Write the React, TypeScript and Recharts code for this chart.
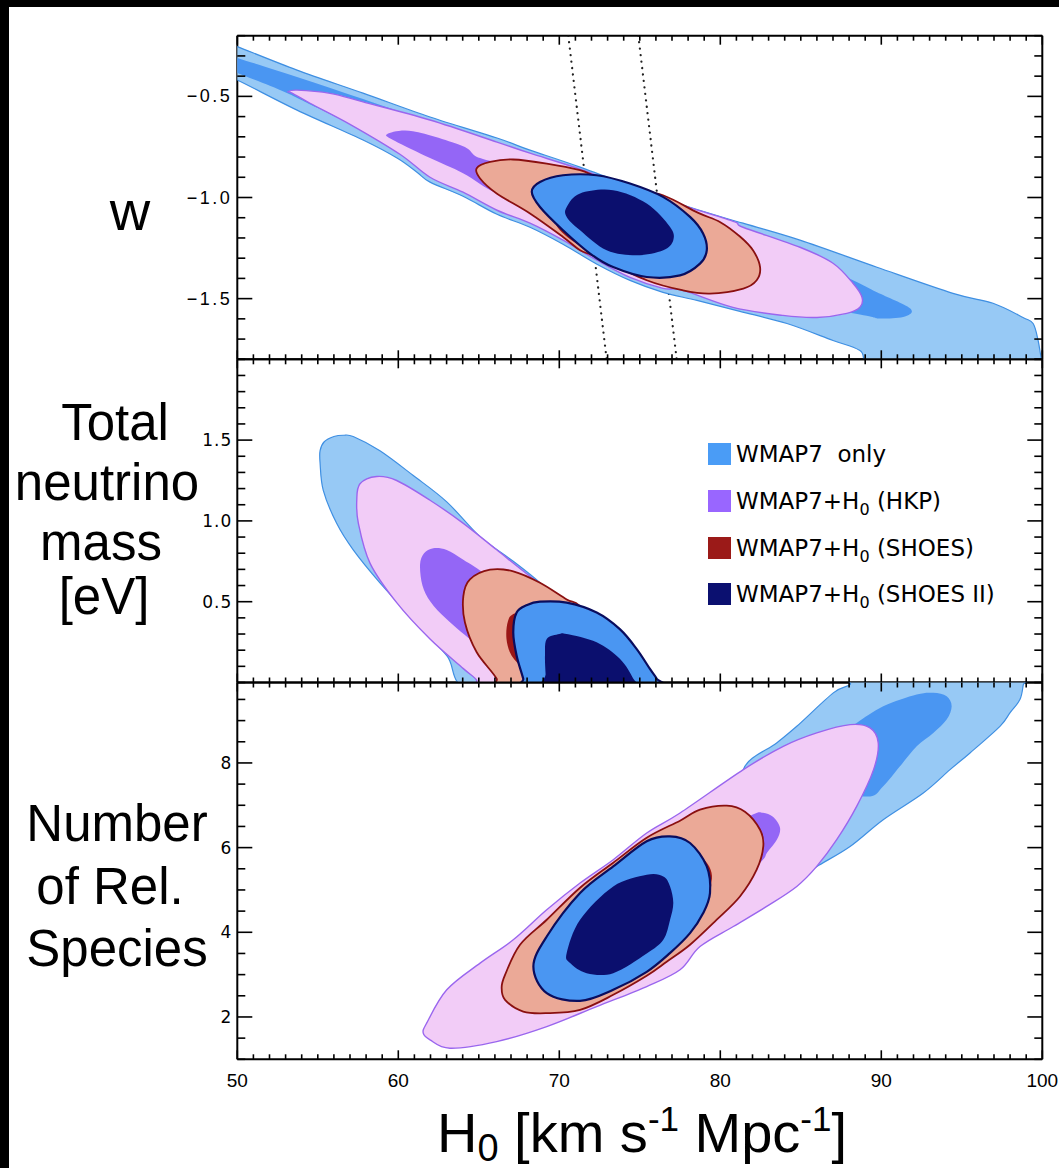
import React from "react";
import { ScatterChart, Scatter, XAxis, YAxis } from "recharts";

type Pair = [number, number];

const W = 1059;

// H0 axis
const xMajor = [50, 60, 70, 80, 90, 100];
const xLabels = ["50", "60", "70", "80", "90", "100"];

// panel 1: w
const wMajor = [-1.5, -1.0, -0.5];
const wLabels = ["\u22121.5", "\u22121.0", "\u22120.5"];
// panel 2: total neutrino mass
const mMajor = [0.5, 1.0, 1.5];
const mLabels = ["0.5", "1.0", "1.5"];
// panel 3: number of relativistic species
const nMajor = [2, 4, 6, 8];
const nLabels = ["2", "4", "6", "8"];

// ---- contours, [H0, value] ----
const wWmapOuter: Pair[] = [
  [48.9, -0.221], [50.0, -0.254], [53.71, -0.37], [57.81, -0.484], [61.97, -0.602], [66.13, -0.706],
  [68.18, -0.766], [71.29, -0.85], [77.31, -1.028], [81.41, -1.127], [84.95, -1.211], [89.73, -1.345],
  [94.45, -1.474], [96.94, -1.523], [98.8, -1.593], [99.43, -1.623], [99.74, -1.707], [99.99, -1.815],
  [100.3, -1.85], [90.23, -1.85], [88.67, -1.756], [87.0, -1.707], [84.14, -1.623], [81.22, -1.563],
  [78.55, -1.509], [76.44, -1.469], [74.39, -1.41], [72.34, -1.33], [70.23, -1.231], [68.18, -1.147],
  [66.13, -1.083], [64.02, -0.994], [61.97, -0.924], [61.16, -0.875], [59.92, -0.805], [57.81, -0.716],
  [53.71, -0.568], [50.0, -0.419], [48.9, -0.385],
];
const wWmapInner: Pair[] = [
  [48.9, -0.281], [50.0, -0.31], [53.71, -0.404], [57.81, -0.513], [61.97, -0.627], [64.46, -0.692],
  [71.29, -0.904], [78.74, -1.137], [84.95, -1.291], [88.24, -1.409], [89.73, -1.469], [91.78, -1.548],
  [91.47, -1.588], [89.91, -1.598], [88.67, -1.578], [81.84, -1.484], [72.52, -1.211], [66.31, -0.989],
  [60.1, -0.756], [55.0, -0.558], [52.97, -0.479], [50.0, -0.385], [48.9, -0.355],
];
const wHkpOuter: Pair[] = [
  [53.15, -0.477], [53.71, -0.469], [55.76, -0.485], [57.81, -0.527], [61.97, -0.617], [66.13, -0.726],
  [68.18, -0.781], [71.47, -0.865], [75.63, -0.989], [80.6, -1.112], [81.41, -1.147], [84.95, -1.246],
  [87.0, -1.325], [88.24, -1.424], [88.8, -1.493], [88.67, -1.543], [87.86, -1.573], [86.0, -1.593],
  [83.89, -1.583], [80.78, -1.543], [77.68, -1.459], [76.44, -1.449], [74.39, -1.395], [72.34, -1.31],
  [70.23, -1.211], [68.18, -1.127], [66.13, -1.063], [64.02, -0.974], [61.97, -0.9], [60.1, -0.786],
  [57.0, -0.638], [54.52, -0.534], [53.4, -0.484],
];
const wHkpInner: Pair[] = [
  [59.3, -0.687], [60.91, -0.672], [64.02, -0.746], [65.08, -0.805], [68.18, -0.865], [72.52, -0.964],
  [73.76, -1.038], [72.52, -1.088], [68.8, -1.038], [66.13, -0.979], [64.02, -0.88], [61.97, -0.805],
  [59.8, -0.721],
];
const wShoesOuter: Pair[] = [
  [64.87, -0.855], [65.7, -0.824], [67.12, -0.812], [69.22, -0.832], [71.29, -0.865], [72.32, -0.898],
  [74.39, -0.955], [76.44, -0.989], [78.6, -1.075], [80.0, -1.122], [81.22, -1.193], [82.03, -1.261],
  [82.47, -1.344], [82.26, -1.409], [81.43, -1.45], [79.36, -1.475], [77.68, -1.459], [75.43, -1.409],
  [72.32, -1.294], [71.29, -1.261], [70.23, -1.195], [68.18, -1.079], [66.11, -0.98], [65.08, -0.906],
];
const wShoesInner: Pair[] = [
  [70.04, -1.088], [72.53, -1.013], [75.63, -1.038], [78.12, -1.137], [77.81, -1.261], [75.02, -1.32],
  [71.91, -1.261], [70.04, -1.162],
];
const wShoes2Outer: Pair[] = [
  [68.29, -0.972], [68.8, -0.923], [70.23, -0.89], [72.32, -0.89], [74.39, -0.931], [76.44, -0.997],
  [78.12, -1.096], [78.93, -1.178], [79.16, -1.261], [78.74, -1.327], [77.5, -1.385], [75.43, -1.393],
  [73.34, -1.344], [71.91, -1.277], [70.23, -1.162], [68.8, -1.047],
];
const wShoes2Inner: Pair[] = [
  [70.46, -1.047], [71.29, -0.98], [73.34, -0.964], [75.43, -1.03], [76.88, -1.146], [77.08, -1.211],
  [76.46, -1.261], [74.81, -1.286], [72.94, -1.261], [71.29, -1.162], [70.46, -1.096],
];
// dotted H0 band (SHOES)
const wDotA: Pair[] = [[70.56, -0.2], [72.94, -1.8]];
const wDotB: Pair[] = [[74.91, -0.2], [77.29, -1.8]];

const mWmapOuter: Pair[] = [
  [55.14, 1.434], [55.4, 1.49], [56.0, 1.522], [56.58, 1.53], [57.2, 1.522], [58.86, 1.434], [60.93, 1.281],
  [63.01, 1.118], [65.08, 0.902], [67.14, 0.75], [68.8, 0.617], [70.5, 0.45], [72.53, -0.05],
  [64.64, -0.05], [63.01, 0.166], [60.93, 0.391], [58.86, 0.617], [57.2, 0.821], [56.17, 0.985],
  [55.34, 1.189], [55.14, 1.36],
];
const mHkpOuter: Pair[] = [
  [57.62, 1.23], [58.66, 1.275], [59.9, 1.25], [61.97, 1.128], [64.04, 0.985], [66.11, 0.821],
  [68.18, 0.657], [70.46, 0.494], [72.53, 0.269], [73.77, -0.05], [64.87, -0.05], [64.87, 0.013],
  [64.04, 0.086], [61.97, 0.269], [59.9, 0.494], [58.24, 0.739], [57.52, 0.985], [57.42, 1.128],
];
const mHkpInner: Pair[] = [
  [61.35, 0.73], [61.6, 0.8], [62.17, 0.831], [63.01, 0.82], [64.04, 0.759], [65.5, 0.66], [67.0, 0.5],
  [67.0, 0.3], [65.5, 0.22], [64.7, 0.25], [63.01, 0.391], [62.0, 0.5], [61.5, 0.6],
];
const mShoesOuter: Pair[] = [
  [64.04, 0.534], [64.45, 0.638], [65.7, 0.698], [67.14, 0.688], [68.8, 0.617], [70.46, 0.514],
  [71.29, 0.473], [73.15, 0.269], [74.39, -0.05], [66.11, -0.05], [66.11, 0.023], [64.87, 0.187],
  [64.14, 0.371],
];
const mShoesInner: Pair[] = [
  [67.25, 0.428], [68.8, 0.47], [70.04, 0.465], [72.53, 0.33], [72.53, -0.05], [68.8, -0.05],
  [67.87, 0.072], [67.04, 0.166], [66.72, 0.269], [66.81, 0.379],
];
const mShoes2Outer: Pair[] = [
  [67.14, 0.31], [67.35, 0.433], [68.0, 0.48], [68.8, 0.5], [70.46, 0.494], [72.32, 0.433],
  [73.76, 0.33], [74.81, 0.207], [75.63, 0.084], [76.05, 0.023], [76.3, -0.05], [67.9, -0.05],
  [67.76, 0.023], [67.35, 0.166],
];
const mShoes2Inner: Pair[] = [
  [69.11, 0.166], [69.22, 0.269], [70.0, 0.3], [70.46, 0.3], [72.32, 0.249], [73.76, 0.147],
  [74.6, 0.023], [74.8, -0.05], [69.2, -0.05], [69.15, 0.05],
];

const nWmapOuter: Pair[] = [
  [81.43, 7.842], [83.5, 8.473], [84.75, 8.865], [87.02, 9.655], [88.06, 9.851], [88.6, 10.1],
  [98.9, 10.1], [98.82, 9.851], [98.61, 9.496], [97.99, 9.182], [97.37, 8.865], [95.51, 8.236],
  [94.27, 7.842], [92.61, 7.291], [90.12, 6.66], [88.06, 6.028], [86.0, 5.556], [84.75, 5.241],
  [83.74, 5.4], [81.88, 6.66],
];
const nWmapInner: Pair[] = [
  [88.47, 8.946], [90.12, 9.338], [92.2, 9.615], [93.23, 9.655], [94.06, 9.574], [94.37, 9.338],
  [94.06, 9.024], [93.23, 8.709], [92.2, 8.392], [91.16, 7.92], [90.12, 7.447], [89.3, 7.21],
  [87.44, 7.369], [86.5, 8.0], [87.5, 8.7],
];
const nHkpOuter: Pair[] = [
  [61.55, 1.617], [61.76, 1.853], [63.01, 2.641], [65.08, 3.272], [67.14, 3.823], [69.22, 4.532],
  [71.29, 5.163], [73.35, 5.714], [75.43, 6.345], [77.5, 6.818], [81.43, 7.842], [83.91, 8.392],
  [85.99, 8.709], [88.06, 8.905], [89.3, 8.827], [89.81, 8.473], [89.52, 7.842], [88.47, 6.974],
  [87.23, 6.187], [85.99, 5.556], [84.75, 5.083], [82.88, 4.61], [80.81, 4.137], [78.74, 3.664],
  [77.5, 3.114], [75.43, 2.719], [72.32, 2.246], [69.22, 1.773], [66.11, 1.418], [63.21, 1.262],
  [61.97, 1.459],
];
const nHkpInner: Pair[] = [
  [82.02, 6.78], [82.65, 6.825], [83.27, 6.73], [83.71, 6.47], [83.52, 6.19], [82.9, 5.88],
  [82.47, 5.64], [79.98, 4.77], [75.63, 3.82], [71.29, 3.11], [70.04, 3.35], [72.53, 4.3],
  [77.5, 5.48], [79.98, 6.31],
];
const nShoesOuter: Pair[] = [
  [66.63, 2.995], [67.56, 3.705], [69.22, 4.296], [71.29, 5.053], [73.35, 5.643], [75.43, 6.234],
  [77.5, 6.636], [78.74, 6.896], [80.4, 6.991], [81.53, 6.849], [82.47, 6.423], [82.67, 6.028],
  [82.26, 5.478], [81.22, 4.846], [79.78, 4.297], [78.12, 3.705], [76.67, 3.303], [75.43, 2.972],
  [73.35, 2.523], [71.29, 2.168], [69.22, 2.09], [67.76, 2.128], [66.63, 2.404], [66.42, 2.7],
];
const nShoesInner: Pair[] = [
  [77.8, 6.0], [78.9, 5.75], [79.4, 5.478], [79.45, 5.194], [79.05, 4.887], [76.26, 4.059],
  [72.53, 3.705], [70.66, 4.059], [71.91, 4.887], [75.02, 5.596],
];
const nShoes2Outer: Pair[] = [
  [68.39, 3.192], [69.22, 3.901], [71.29, 4.927], [73.35, 5.556], [75.43, 6.15], [76.87, 6.265],
  [78.12, 6.109], [79.16, 5.556], [79.36, 4.927], [78.94, 4.454], [78.12, 3.981], [76.87, 3.508],
  [75.43, 3.066], [73.35, 2.641], [71.29, 2.38], [69.22, 2.563],
];
const nShoes2Inner: Pair[] = [
  [70.46, 3.508], [71.29, 4.296], [73.35, 5.083], [75.43, 5.359], [76.46, 5.319], [76.88, 5.083],
  [77.08, 4.69], [76.88, 4.296], [76.46, 3.823], [75.43, 3.5], [73.35, 3.035], [71.7, 3.035],
  [70.67, 3.272],
];

const C = {
  wmapOuter: "#97c9f5", wmapInner: "#4a96f2", wmapLine: "#3f8fe2",
  hkpOuter: "#f2ccf7", hkpInner: "#9466f6", hkpLine: "#9a66ee",
  shoesOuter: "#eba997", shoesInner: "#9a1616", shoesLine: "#8a1010",
  s2Outer: "#4a96f2", s2Inner: "#0b0f6e", s2Line: "#0a0d5e",
};

const steps = (a: number, b: number, s: number) => {
  const out: number[] = [];
  for (let v = a; v <= b + 1e-9; v += s) out.push(Math.round(v * 100) / 100);
  return out;
};

const toPts = (arr: Pair[]) => arr.map(([h, v]) => ({ h, v }));

// closed catmull-rom through the scaled points
function closedPath(pts: { x: number; y: number }[]) {
  const n = pts.length;
  if (!n) return "";
  let d = `M${pts[0].x},${pts[0].y}`;
  for (let i = 0; i < n; i++) {
    const p0 = pts[(i - 1 + n) % n], p1 = pts[i], p2 = pts[(i + 1) % n], p3 = pts[(i + 2) % n];
    const c1x = p1.x + (p2.x - p0.x) / 6, c1y = p1.y + (p2.y - p0.y) / 6;
    const c2x = p2.x - (p3.x - p1.x) / 6, c2y = p2.y - (p3.y - p1.y) / 6;
    d += `C${c1x},${c1y} ${c2x},${c2y} ${p2.x},${p2.y}`;
  }
  return d + "Z";
}

const contour = (fill: string, stroke: string, width: number) => (p: any) => (
  <path d={closedPath(p.points || [])} fill={fill} stroke={stroke} strokeWidth={width} strokeLinejoin="round" />
);

const noDot = () => <g />;

interface Layer { data: Pair[]; fill?: string; stroke?: string; width?: number; dotted?: boolean }

const layersOf = (o: Pair[] | null, i: Pair[] | null, s: number): Layer[] => {
  const st = [
    [C.wmapOuter, C.wmapInner, C.wmapLine, 1.2],
    [C.hkpOuter, C.hkpInner, C.hkpLine, 1.4],
    [C.shoesOuter, C.shoesInner, C.shoesLine, 1.8],
    [C.s2Outer, C.s2Inner, C.s2Line, 2.2],
  ][s] as [string, string, string, number];
  const out: Layer[] = [];
  if (o) out.push({ data: o, fill: st[0], stroke: st[2], width: st[3] });
  if (i) out.push({ data: i, fill: st[1], stroke: "none", width: 0 });
  return out;
};

const majorIdx = (v: number, majors: number[]) => majors.findIndex((m) => Math.abs(m - v) < 1e-6);

const yTick = (side: "left" | "right", majors: number[], labels: string[] | null, font: string, fs: number, ls: number) =>
  (p: any) => {
    const idx = majorIdx(p.payload.value, majors);
    const len = idx >= 0 ? 15 : 8;
    const dir = side === "left" ? 1 : -1;
    return (
      <g>
        <line x1={p.x} x2={p.x + dir * len} y1={p.y} y2={p.y} stroke="#000" strokeWidth={1.6} />
        {labels && idx >= 0 && (
          <text x={p.x - 5} y={p.y + 6} textAnchor="end" fontSize={fs} fontFamily={font} letterSpacing={ls} fill="#000">
            {labels[idx]}
          </text>
        )}
      </g>
    );
  };

const xTick = (side: "top" | "bottom", showLabels: boolean) => (p: any) => {
  const idx = majorIdx(p.payload.value, xMajor);
  const len = idx >= 0 ? 9 : 5;
  const dir = side === "bottom" ? -1 : 1;
  return (
    <g>
      <line x1={p.x} x2={p.x} y1={p.y} y2={p.y + dir * len} stroke="#000" strokeWidth={1.6} />
      {showLabels && idx >= 0 && (
        <text x={p.x} y={p.y + 28} textAnchor="middle" fontSize={19} fontFamily="Liberation Sans, Arial, sans-serif" fill="#000">
          {xLabels[idx]}
        </text>
      )}
    </g>
  );
};

const xTicks = steps(50, 100, 1);
const axisLine = { stroke: "#000", strokeWidth: 2 };

interface PanelProps {
  top: number; height: number; mt: number; mb: number;
  domain: [number, number]; ticks: number[]; majors: number[]; labels: string[];
  font: string; fs: number; ls: number; xLabelsOn: boolean; layers: Layer[];
}

// axes get 1px of room each (a zero-size axis is not drawn), margins take the rest
function Panel({ top, height, mt, mb, domain, ticks, majors, labels, font, fs, ls, xLabelsOn, layers }: PanelProps) {
  return (
    <div style={{ position: "absolute", left: 0, top, width: W, height }}>
      <ScatterChart width={W} height={height} margin={{ top: mt - 1, right: 15.7, bottom: mb - 1, left: 236.3 }}>
        <XAxis xAxisId="b" type="number" dataKey="h" domain={[50, 100]} allowDataOverflow ticks={xTicks}
          interval={0} height={1} tickSize={0} tickMargin={0} tickLine={false} axisLine={axisLine}
          tick={xTick("bottom", xLabelsOn)} orientation="bottom" />
        <XAxis xAxisId="t" type="number" dataKey="h" domain={[50, 100]} allowDataOverflow ticks={xTicks}
          interval={0} height={1} tickSize={0} tickMargin={0} tickLine={false} axisLine={axisLine}
          tick={xTick("top", false)} orientation="top" />
        <YAxis yAxisId="l" type="number" dataKey="v" domain={domain} allowDataOverflow ticks={ticks}
          interval={0} width={1} tickSize={0} tickMargin={0} tickLine={false} axisLine={axisLine}
          tick={yTick("left", majors, labels, font, fs, ls)} orientation="left" />
        <YAxis yAxisId="r" type="number" dataKey="v" domain={domain} allowDataOverflow ticks={ticks}
          interval={0} width={1} tickSize={0} tickMargin={0} tickLine={false} axisLine={axisLine}
          tick={yTick("right", majors, null, font, fs, ls)} orientation="right" />
        {layers.map((l, i) =>
          l.dotted ? (
            <Scatter key={i} xAxisId="b" yAxisId="l" data={toPts(l.data)} shape={noDot} isAnimationActive={false}
              line={{ stroke: "#222", strokeWidth: 2.2, strokeDasharray: "0.1 6.4", strokeLinecap: "round", fill: "none" }} />
          ) : (
            <Scatter key={i} xAxisId="b" yAxisId="l" data={toPts(l.data)} shape={noDot} isAnimationActive={false}
              line={contour(l.fill || "none", l.stroke || "none", l.width || 0)} />
          )
        )}
      </ScatterChart>
    </div>
  );
}

const SANS = "Liberation Sans, Arial, Helvetica, sans-serif";
const LEG = "DejaVu Sans, Verdana, sans-serif";

const legendItems = [
  { color: "#4a9cf6", main: "WMAP7\u00a0 only", tag: "" },
  { color: "#9966ff", main: "WMAP7+H", tag: " (HKP)" },
  { color: "#9b1a18", main: "WMAP7+H", tag: " (SHOES)" },
  { color: "#0b1070", main: "WMAP7+H", tag: " (SHOES II)" },
];
const legendRows = [443, 490, 537, 583];

export default function App() {
  const p1: Layer[] = [
    { data: wDotA, dotted: true },
    { data: wDotB, dotted: true },
    ...layersOf(wWmapOuter, wWmapInner, 0),
    ...layersOf(wHkpOuter, wHkpInner, 1),
    ...layersOf(wShoesOuter, wShoesInner, 2),
    ...layersOf(wShoes2Outer, wShoes2Inner, 3),
  ];
  const p2: Layer[] = [
    ...layersOf(mWmapOuter, null, 0),
    ...layersOf(mHkpOuter, mHkpInner, 1),
    ...layersOf(mShoesOuter, mShoesInner, 2),
    ...layersOf(mShoes2Outer, mShoes2Inner, 3),
  ];
  const p3: Layer[] = [
    ...layersOf(nWmapOuter, nWmapInner, 0),
    ...layersOf(nHkpOuter, nHkpInner, 1),
    ...layersOf(nShoesOuter, nShoesInner, 2),
    ...layersOf(nShoes2Outer, nShoes2Inner, 3),
  ];

  return (
    <div style={{ position: "absolute", left: 0, top: 0, width: W, height: 1168, background: "#fff", overflow: "hidden" }}>
      <Panel top={0} height={380} mt={35.7} mb={20.7} domain={[-1.8, -0.2]} ticks={steps(-1.8, -0.2, 0.1)}
        majors={wMajor} labels={wLabels} font={SANS} fs={18} ls={2.5} xLabelsOn={false} layers={p1} />
      <Panel top={340} height={360} mt={19.3} mb={17.5} domain={[0, 2]} ticks={steps(0, 2, 0.1)}
        majors={mMajor} labels={mLabels} font={LEG} fs={17} ls={1} xLabelsOn={false} layers={p2} />
      <Panel top={660} height={508} mt={22.5} mb={108.7} domain={[1, 9.9]} ticks={steps(1, 9.5, 0.5)}
        majors={nMajor} labels={nLabels} font={LEG} fs={17} ls={1} xLabelsOn={true} layers={p3} />

      <svg width={W} height={1168} style={{ position: "absolute", left: 0, top: 0, pointerEvents: "none" }}>
        <g fontFamily={SANS} fontSize={51} fill="#000" textAnchor="middle">
          <text x={130} y={230} fontSize={56}>w</text>
          <text x={115} y={440}>Total</text>
          <text x={107} y={500}>neutrino</text>
          <text x={101} y={560}>mass</text>
          <text x={104} y={614}>[eV]</text>
          <text x={117} y={841}>Number</text>
          <text x={110} y={904}>of Rel.</text>
          <text x={117} y={966}>Species</text>
          <text x={642} y={1152} fontSize={56}>
            H<tspan dy={9} fontSize={38}>0</tspan>
            <tspan dy={-9}> [km s</tspan>
            <tspan dy={-21} fontSize={35}>-1</tspan>
            <tspan dy={21}> Mpc</tspan>
            <tspan dy={-21} fontSize={35}>-1</tspan>
            <tspan dy={21}>]</tspan>
          </text>
        </g>
        <g fontFamily={LEG} fontSize={23} fill="#000">
          {legendItems.map((it, i) => (
            <g key={i}>
              <rect x={708} y={legendRows[i]} width={23} height={22} fill={it.color} />
              <text x={736} y={legendRows[i] + 19}>
                {it.main}
                {it.tag && <tspan dy={6} fontSize={16}>0</tspan>}
                {it.tag && <tspan dy={-6}>{it.tag}</tspan>}
              </text>
            </g>
          ))}
        </g>
      </svg>

      <div style={{ position: "absolute", left: 0, top: 0, width: W, height: 7, background: "#000" }} />
      <div style={{ position: "absolute", left: 0, top: 0, width: 9, height: 1168, background: "#000" }} />
    </div>
  );
}
